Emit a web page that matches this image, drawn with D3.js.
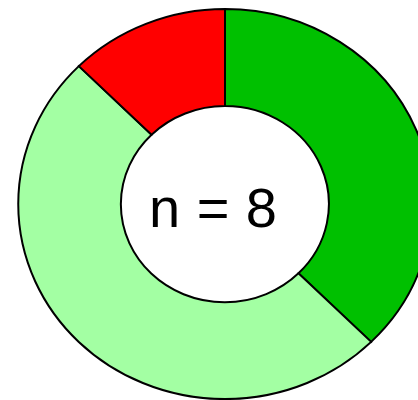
<!DOCTYPE html>
<html><head><meta charset="utf-8">
<script src="https://cdn.jsdelivr.net/npm/d3@7"></script>
<style>body{margin:0;background:#fff}svg{display:block}</style>
</head><body>
<script>
const categories = ["Group A", "Group B", "Group C"];
const values = [3, 4, 1];
const colors = ["#00C000", "#A3FFA3", "#FF0000"];
const label = "n = 8";

const W = 418, H = 400;
const svg = d3.select("body").append("svg").attr("width", W).attr("height", H);
const cx = 225, cy = 204, rOuter = 195, rInner = 98, sx = 1.06;

const g = svg.append("g").attr("transform", `translate(${cx},${cy}) scale(${sx},1)`);
const pie = d3.pie().sort(null).value(d => d);
const arc = d3.arc().innerRadius(rInner).outerRadius(rOuter);

g.selectAll("path.slice").data(pie(values)).join("path")
  .attr("class", "slice")
  .attr("d", arc)
  .attr("fill", (d, i) => colors[i])
  .attr("stroke", "#000")
  .attr("stroke-width", 2)
  .attr("vector-effect", "non-scaling-stroke");

svg.append("text")
  .attr("x", 149).attr("y", 227)
  .attr("font-family", "Liberation Sans, Arial, sans-serif")
  .attr("font-size", 56)
  .attr("textLength", 128)
  .attr("fill", "#000")
  .text(label);
</script>
</body></html>
